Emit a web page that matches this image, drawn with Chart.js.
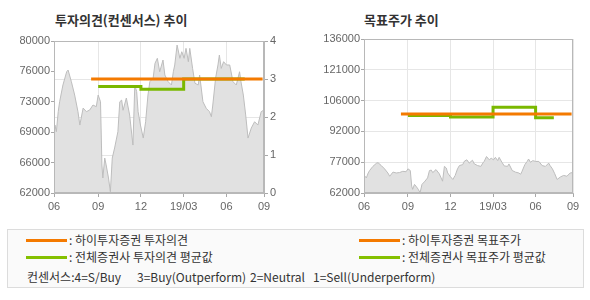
<!DOCTYPE html>
<html>
<head>
<meta charset="utf-8">
<script src="https://cdn.jsdelivr.net/npm/chart.js@4"></script>
<style>
body{margin:0;width:590px;height:300px;background:#fff;position:relative;overflow:hidden;font-family:"Noto Sans CJK KR",sans-serif;color:#333}
canvas{position:absolute;top:0}
.title{position:absolute;top:10px;font-size:13px;font-weight:bold;color:#333;white-space:nowrap}
#legend{position:absolute;left:7px;top:229px;width:575px;height:57px;border:1px solid #dcdcdc;background:#fafafa}
.ln{position:absolute;width:41px;height:3px}
.tx{position:absolute;font-size:12px;line-height:14px;white-space:nowrap;color:#333}
</style>
</head>
<body>
<div class="title" style="left:55px">투자의견(컨센서스) 추이</div>
<div class="title" style="left:364px">목표주가 추이</div>
<canvas id="opinionChart" width="290" height="215" style="left:0"></canvas>
<canvas id="targetChart" width="290" height="215" style="left:300px"></canvas>

<div id="legend"></div>
<div class="ln" style="left:26px;top:239px;background:#f47a00"></div>
<div class="tx" style="left:69px;top:233px">: 하이투자증권 투자의견</div>
<div class="ln" style="left:26px;top:256px;background:#84c000"></div>
<div class="tx" style="left:69px;top:250px">: 전체증권사 투자의견 평균값</div>
<div class="ln" style="left:359px;top:239px;background:#f47a00"></div>
<div class="tx" style="left:402px;top:233px">: 하이투자증권 목표주가</div>
<div class="ln" style="left:359px;top:256px;background:#84c000"></div>
<div class="tx" style="left:402px;top:250px">: 전체증권사 목표주가 평균값</div>
<div class="tx" style="left:27px;top:270px">컨센서스:4=S/Buy</div>
<div class="tx" style="left:137px;top:270px">3=Buy(Outperform)</div>
<div class="tx" style="left:250px;top:270px">2=Neutral</div>
<div class="tx" style="left:313px;top:270px">1=Sell(Underperform)</div>

<script>
// stock price (gray area)
var priceDates = ["2018-06-01","2018-06-03","2018-06-06","2018-06-10","2018-06-13","2018-06-20","2018-06-28",
  "2018-07-01","2018-07-08","2018-07-15","2018-07-22","2018-07-26","2018-08-02","2018-08-09","2018-08-16",
  "2018-08-23","2018-08-30","2018-09-03","2018-09-08","2018-09-11","2018-09-13","2018-09-17","2018-09-20",
  "2018-09-25","2018-09-29","2018-10-03","2018-10-08","2018-10-15","2018-10-19","2018-10-23","2018-10-26",
  "2018-11-02","2018-11-09","2018-11-16","2018-11-20","2018-11-24","2018-11-27","2018-12-02","2018-12-08",
  "2018-12-13","2018-12-18","2018-12-22","2018-12-29","2019-01-02","2019-01-07","2019-01-12","2019-01-19",
  "2019-01-23","2019-01-30","2019-02-06","2019-02-10","2019-02-13","2019-02-18","2019-02-24","2019-02-28",
  "2019-03-05","2019-03-09","2019-03-14","2019-03-17","2019-03-23","2019-03-28","2019-04-04","2019-04-07",
  "2019-04-14","2019-04-21","2019-04-28","2019-05-02","2019-05-05","2019-05-11","2019-05-16","2019-05-19",
  "2019-05-23","2019-05-28","2019-06-03","2019-06-10","2019-06-17","2019-06-24","2019-07-01","2019-07-04",
  "2019-07-09","2019-07-14","2019-07-19","2019-07-26","2019-08-02","2019-08-09","2019-08-16","2019-08-22"];
var prices = [69600,70050,69260,71630,72810,74790,76360,
  76560,75180,73600,71630,70050,72060,71630,71830,
  72420,72220,73600,72810,65320,63780,66140,65320,
  63780,62150,66140,67330,69260,72800,73000,71800,
  73250,71240,67680,74790,74000,71630,70050,68510,
  70440,73600,75180,75620,77360,77950,76360,77750,
  75970,75180,74790,76360,77160,79520,77950,78730,
  77950,79130,77550,79130,76760,75000,74790,75970,
  72810,72030,71630,71030,72420,75620,77160,78340,
  76760,77550,77160,77160,75180,74790,76360,75180,
  73600,71240,68510,69700,70440,70050,71630,71830];

// 하이투자증권 opinion / target
var hiDates = ["2018-08-19","2019-08-19"];
var hiOpinion = [3, 3];
var hiTarget = [100000, 100000];

// 전체증권사 averages
var avgDates = ["2018-09-03","2018-12-03","2019-03-04","2019-06-03","2019-07-12"];
var avgOpinion = [2.8, 2.73, 3, 3, 3];
var avgTarget = [99200, 98500, 103200, 98200, 98200];

var tickDates = ["2018-06-01","2018-09-03","2018-12-03","2019-03-04","2019-06-03","2019-08-22"];
var tickLabels = ["06","09","12","19/03","06","09"];

var orange = "#f47a00";
var green = "#7ab800";
var base = Date.UTC(2018, 5, 1);
function dayOf(s) {
  var p = s.split("-");
  return (Date.UTC(+p[0], p[1] - 1, +p[2]) - base) / 86400000;
}
function pts(dates, vals) {
  return dates.map(function (d, i) { return {x: dayOf(d), y: vals[i]}; });
}
var tickDays = tickDates.map(dayOf);
var tickFont = {family: "Liberation Sans", size: 11};

var frame = {
  id: "frame",
  afterDraw: function (c) {
    var a = c.chartArea, ctx = c.ctx;
    ctx.save();
    ctx.strokeStyle = "#b8b8b8";
    ctx.lineWidth = 1;
    ctx.strokeRect(a.left + 0.5, a.top + 0.5, a.right - a.left - 1, a.bottom - a.top - 1);
    ctx.restore();
  }
};

function xScale() {
  return {
    type: "linear", min: 0, max: tickDays[tickDays.length - 1],
    afterBuildTicks: function (s) { s.ticks = tickDays.map(function (v) { return {value: v}; }); },
    afterFit: function (s) { s.height = 22; },
    grid: {color: "#e6e6e6", tickColor: "#a8a8a8", tickLength: 4},
    border: {color: "#b8b8b8"},
    ticks: {autoSkip: false, maxRotation: 0, padding: 3, color: "#666", font: tickFont,
      callback: function (v, i) { return tickLabels[i]; }}
  };
}
function roundK(v) { return Math.round(v / 1000) * 1000; }

function priceSet() {
  return {data: pts(priceDates, prices), yAxisID: "y", borderColor: "#bdbdbd", borderWidth: 1,
    backgroundColor: "#e1e1e1", fill: "start", pointRadius: 0, tension: 0, order: 3};
}

new Chart("opinionChart", {
  type: "line",
  data: {
    datasets: [
      {data: pts(hiDates, hiOpinion), yAxisID: "y1", borderColor: orange, borderWidth: 3, pointRadius: 0, order: 1},
      {data: pts(avgDates, avgOpinion), yAxisID: "y1", stepped: "before", borderColor: green, borderWidth: 3, pointRadius: 0, order: 2},
      priceSet()
    ]
  },
  options: {
    animation: false, responsive: false,
    layout: {padding: {top: 41}},
    plugins: {legend: {display: false}, tooltip: {enabled: false}},
    scales: {
      x: xScale(),
      y: {
        position: "left", min: 62000, max: 80000,
        afterFit: function (s) { s.width = 54; },
        grid: {drawOnChartArea: false, tickColor: "#a8a8a8", tickLength: 3},
        border: {color: "#b8b8b8"},
        ticks: {stepSize: 3600, padding: 1, color: "#666", font: tickFont, callback: roundK}
      },
      y1: {
        position: "right", min: 0, max: 4,
        afterFit: function (s) { s.width = 26; },
        grid: {color: "#e6e6e6", tickColor: "#a8a8a8", tickLength: 4},
        border: {color: "#b8b8b8"},
        ticks: {stepSize: 1, padding: 2, color: "#666", font: tickFont}
      }
    }
  },
  plugins: [frame]
});

new Chart("targetChart", {
  type: "line",
  data: {
    datasets: [
      {data: pts(hiDates, hiTarget), borderColor: orange, borderWidth: 3, pointRadius: 0, order: 1},
      {data: pts(avgDates, avgTarget), stepped: "before", borderColor: green, borderWidth: 3, pointRadius: 0, order: 2},
      priceSet()
    ]
  },
  options: {
    animation: false, responsive: false,
    layout: {padding: {top: 39, right: 17}},
    plugins: {legend: {display: false}, tooltip: {enabled: false}},
    scales: {
      x: xScale(),
      y: {
        position: "left", min: 62000, max: 136000,
        afterFit: function (s) { s.width = 64; },
        grid: {color: "#e6e6e6", tickColor: "#a8a8a8", tickLength: 3},
        border: {color: "#b8b8b8"},
        ticks: {stepSize: 14800, padding: 1, color: "#666", font: tickFont, callback: roundK}
      }
    }
  },
  plugins: [frame]
});
</script>
</body>
</html>
